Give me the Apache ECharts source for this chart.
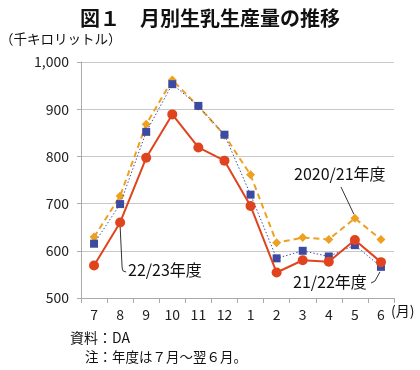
<!DOCTYPE html>
<html><head><meta charset="utf-8">
<script src="https://cdn.jsdelivr.net/npm/echarts@6/dist/echarts.min.js"></script>
<style>html,body{margin:0;padding:0;background:#fff}#c{width:420px;height:370px}</style>
</head><body><div id="c"></div>
<script>
const categories = ['7','8','9','10','11','12','1','2','3','4','5','6'];
const s2020 = [629, 716, 868, 962, 906, 845, 761, 617, 628, 624, 669, 624];
const s2122 = [615, 699, 852, 953, 907, 846, 719, 584, 600, 588, 612, 566];
const s2223 = [569, 660, 797, 889, 819, 791, 695, 554, 580, 577, 623, 576];
const yTicks = [500, 600, 700, 800, 900, 1000];
const font = '"Noto Sans CJK JP", "Noto Sans", sans-serif';

const chart = echarts.init(document.getElementById('c'), null, {renderer: 'canvas'});
const option = {
  animation: false,
  textStyle: {fontFamily: font},
  title: {text: '図１　月別生乳生産量の推移', left: 'center', top: 3,
    textStyle: {fontFamily: font, fontSize: 20, fontWeight: 'bold', color: '#111'}},
  grid: {left: 81, right: 26, top: 62, bottom: 72},
  xAxis: {type: 'category', data: categories, boundaryGap: true,
    axisLine: {lineStyle: {color: '#aaa', width: 1}},
    axisTick: {show: true, length: 5, lineStyle: {color: '#aaa'}},
    axisLabel: {fontSize: 14, color: '#222', margin: 10, fontFamily: font}},
  yAxis: {type: 'value', min: yTicks[0], max: yTicks[yTicks.length-1], interval: 100,
    axisLine: {show: true, lineStyle: {color: '#aaa'}},
    axisTick: {show: true, length: 4, lineStyle: {color: '#aaa'}},
    splitLine: {lineStyle: {color: '#c8c8c8', width: 1}},
    axisLabel: {fontSize: 14, color: '#222', margin: 12, fontFamily: font,
      formatter: v => v.toLocaleString('en-US')}},
  series: [
    {name: '2020/21年度', type: 'line', data: s2020, symbol: 'diamond', symbolSize: 9,
      lineStyle: {color: '#eea020', width: 2, type: [6, 4]}, itemStyle: {color: '#eea020'}, z: 2},
    {name: '21/22年度', type: 'line', data: s2122, symbol: 'rect', symbolSize: 8,
      lineStyle: {color: '#4050a8', width: 1, type: [1.5, 2]}, itemStyle: {color: '#3c4aa0'}, z: 3},
    {name: '22/23年度', type: 'line', data: s2223, symbol: 'circle', symbolSize: 10,
      lineStyle: {color: '#e0441e', width: 2}, itemStyle: {color: '#e0441e'}, z: 4}
  ]
};
chart.setOption(option);

const p = (i, v) => chart.convertToPixel({xAxisIndex: 0, yAxisIndex: 0}, [i, v]);
const ts = {fontFamily: font, fontSize: 16, fill: '#111'};
const o5 = p(10, s2020[10]);
const r8 = p(1, s2223[1]);
const b6 = p(11, s2122[11]);
chart.setOption({graphic: [
  {type: 'text', left: 0, top: 32, style: Object.assign({}, ts, {text: '（千キロリットル）', fontSize: 13.5})},
  {type: 'text', x: 391, y: 304, style: Object.assign({}, ts, {text: '(月)', fontSize: 14})},
  {type: 'text', x: 70, y: 331, style: Object.assign({}, ts, {text: '資料：DA', fontSize: 14})},
  {type: 'text', x: 85, y: 350, style: Object.assign({}, ts, {text: '注：年度は７月～翌６月。', fontSize: 13.5})},
  {type: 'text', x: 294, y: 166, style: Object.assign({}, ts, {text: '2020/21年度'})},
  {type: 'line', shape: {x1: 341, y1: 187, x2: o5[0] - 1, y2: o5[1] - 4}, style: {stroke: '#333', lineWidth: 1}},
  {type: 'text', x: 128, y: 262, style: Object.assign({}, ts, {text: '22/23年度'})},
  {type: 'polyline', shape: {points: [[r8[0], r8[1] + 4], [r8[0] + 2, 268], [r8[0] + 3, 271], [r8[0] + 6, 272]]}, style: {stroke: '#333', lineWidth: 1, fill: null}},
  {type: 'text', x: 293, y: 274, style: Object.assign({}, ts, {text: '21/22年度'})},
  {type: 'polyline', shape: {points: [[371, 283], [375, 281], [b6[0] - 1, b6[1] + 5]]}, style: {stroke: '#333', lineWidth: 1, fill: null}}
]});
</script>
</body></html>
